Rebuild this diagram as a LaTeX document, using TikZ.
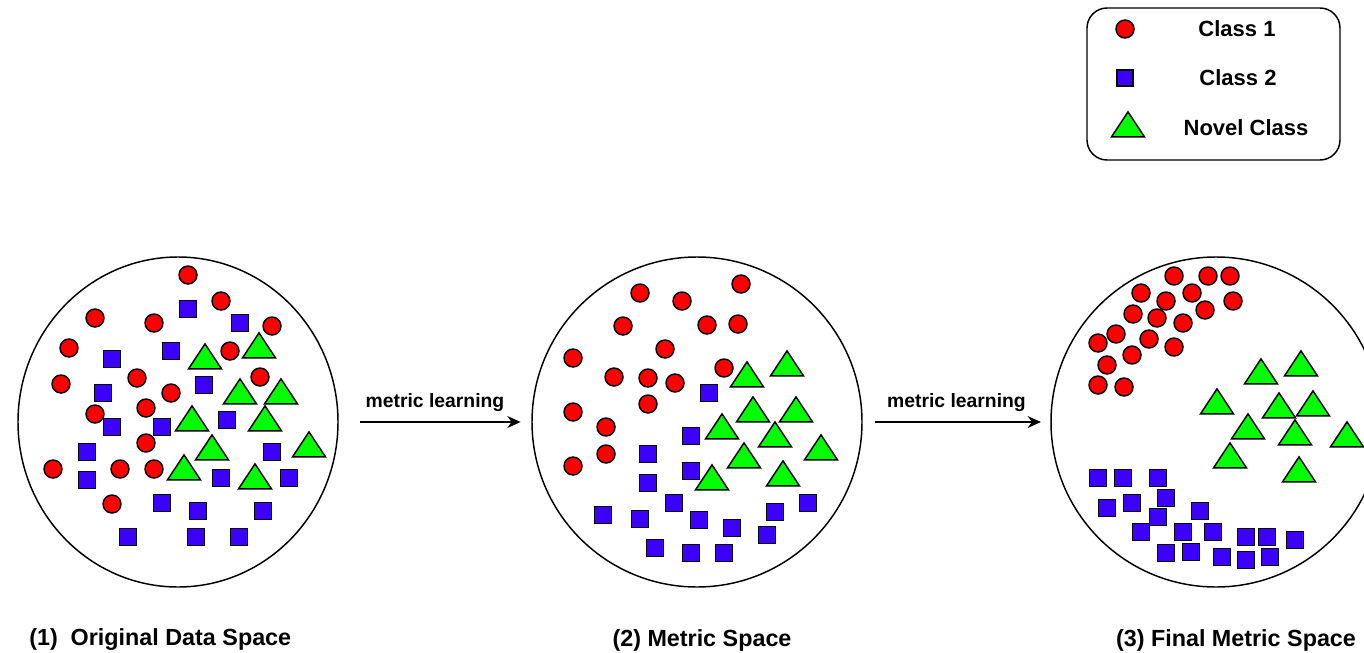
\documentclass[tikz,border=0pt]{standalone}
\usepackage{fontspec}
\setmainfont{Liberation Sans}
\usepackage{tikz}
\usetikzlibrary{positioning,arrows.meta,shapes.geometric}
\usepackage{xcolor}
\definecolor{clsone}{RGB}{255,0,0}
\definecolor{clstwo}{RGB}{60,0,255}
\definecolor{novel}{RGB}{0,255,0}

\begin{document}
\begin{tikzpicture}[
    x=0.75pt, y=-0.75pt,
    space/.style={draw, ellipse, line width=1.1pt, inner sep=0pt, minimum width=247.5pt, minimum height=247.5pt},
    dotone/.style={draw, circle, fill=clsone, line width=1.1pt, inner sep=0pt, minimum size=13.5pt},
    sqtwo/.style={draw, rectangle, fill=clstwo, line width=1.1pt, inner sep=0pt, minimum size=12.75pt},
    trinovel/.style={draw, isosceles triangle, isosceles triangle apex angle=67, isosceles triangle stretches, shape border rotate=90, fill=novel, line width=1.1pt, inner sep=0pt, minimum width=24.75pt, minimum height=18.75pt},
    caption/.style={font=\bfseries\fontsize{17.5}{20}\selectfont, inner sep=0pt},
    legtext/.style={font=\bfseries\fontsize{16.5}{20}\selectfont, inner sep=0pt},
    arrow/.style={-{Stealth[length=10pt, width=9pt]}, line width=1.1pt}
]
    \useasboundingbox (0,0) rectangle (1364,653);
    \clip (0,0) rectangle (1364,653);

    % Spaces
    \node[space, minimum width=240pt] (sp1) at (178,422) {};
    \node[space] (sp2) at (697,422) {};
    \node[space] (sp3) at (1216,422) {};

    % (1) original data space
    \foreach \x/\y [count=\i] in {188/275, 221/301, 95/318, 154/323, 272/326, 69/348, 230/351, 260/377,
        137/378, 61/384, 171/393, 146/408, 95/414, 146/443, 53/469, 120/469, 154/469, 112/504}
        \node[dotone] (a1-\i) at (\x,\y) {};
    \foreach \x/\y [count=\i] in {188/309, 240/323, 112/359, 171/351, 204/385, 103/393, 112/427, 162/427,
        227/420, 87/452, 272/452, 87/480, 221/478, 289/478, 162/503, 198/511, 263/511, 128/537, 196/537, 239/537}
        \node[sqtwo] (b1-\i) at (\x,\y) {};
    \foreach \x/\y [count=\i] in {205/360, 259/349, 240/395, 281/395, 192/422, 265/422, 212/451, 309/448,
        184/471, 255/480}
        \node[trinovel] (n1-\i) at (\x,\y) {};

    % (2) metric space
    \foreach \x/\y [count=\i] in {741/284, 640/293, 682/301, 623/326, 707/325, 738/324, 665/349, 573/358,
        724/368, 614/377, 648/378, 675/383, 648/404, 573/412, 606/427, 606/454, 573/466}
        \node[dotone] (a2-\i) at (\x,\y) {};
    \foreach \x/\y [count=\i] in {709/393, 691/436, 648/454, 691/471, 648/483, 674/503, 603/515, 640/519,
        699/520, 732/528, 775/512, 808/503, 767/535, 655/548, 691/553, 724/553}
        \node[sqtwo] (b2-\i) at (\x,\y) {};
    \foreach \x/\y [count=\i] in {787/367, 747/378, 753/413, 796/413, 722/430, 775/438, 821/451, 744/459,
        712/481, 783/477}
        \node[trinovel] (n2-\i) at (\x,\y) {};

    % (3) final metric space
    \foreach \x/\y [count=\i] in {1174/276, 1208/276, 1230/276, 1141/293, 1192/293, 1166/301, 1233/301,
        1133/314, 1157/318, 1205/310, 1183/323, 1116/334, 1098/343, 1149/339, 1174/347, 1132/355,
        1107/365, 1098/385, 1124/387}
        \node[dotone] (a3-\i) at (\x,\y) {};
    \foreach \x/\y [count=\i] in {1098/478, 1123/478, 1158/478, 1166/498, 1107/508, 1132/503, 1158/517,
        1200/511, 1141/532, 1183/532, 1213/532, 1246/537, 1267/537, 1295/540, 1166/553, 1191/552,
        1222/557, 1246/560, 1270/557}
        \node[sqtwo] (b3-\i) at (\x,\y) {};
    \foreach \x/\y [count=\i] in {1301/367, 1261/375, 1217/405, 1279/409, 1313/407, 1248/430, 1295/436,
        1347/438, 1230/459, 1299/473}
        \node[trinovel] (n3-\i) at (\x,\y) {};

    % Arrows
    \draw[arrow, shorten <=16pt, shorten >=8pt] (sp1.east) -- node[above=4pt, font=\bfseries\fontsize{14.5}{16}\selectfont] (ml1) {metric learning} (sp2.west);
    \draw[arrow, shorten <=9pt, shorten >=7pt] (sp2.east) -- node[above=4pt, font=\bfseries\fontsize{14.5}{16}\selectfont] (ml2) {metric learning} (sp3.west);

    % Captions
    \node[caption, anchor=west] (cap1) at (29,640) {(1)\ \ Original Data Space};
    \node[caption] (cap2) at (702,640) {(2) Metric Space};
    \node[caption] (cap3) at (1236,640) {(3) Final Metric Space};

    % Legend
    \node[draw, rounded corners=15pt, line width=1.1pt, minimum width=189.75pt, minimum height=114pt] (legend) at (1213.5,84) {};
    \node[dotone] (lg1) at (1125,29) {};
    \node[sqtwo, minimum size=12pt] (lg2) at (1125,78) {};
    \node[trinovel] (lg3) at (1128,128) {};
    \node[legtext] (lt1) at (1237,29) {Class 1};
    \node[legtext] (lt2) at (1238,78) {Class 2};
    \node[legtext] (lt3) at (1246,128) {Novel Class};
\end{tikzpicture}
\end{document}
